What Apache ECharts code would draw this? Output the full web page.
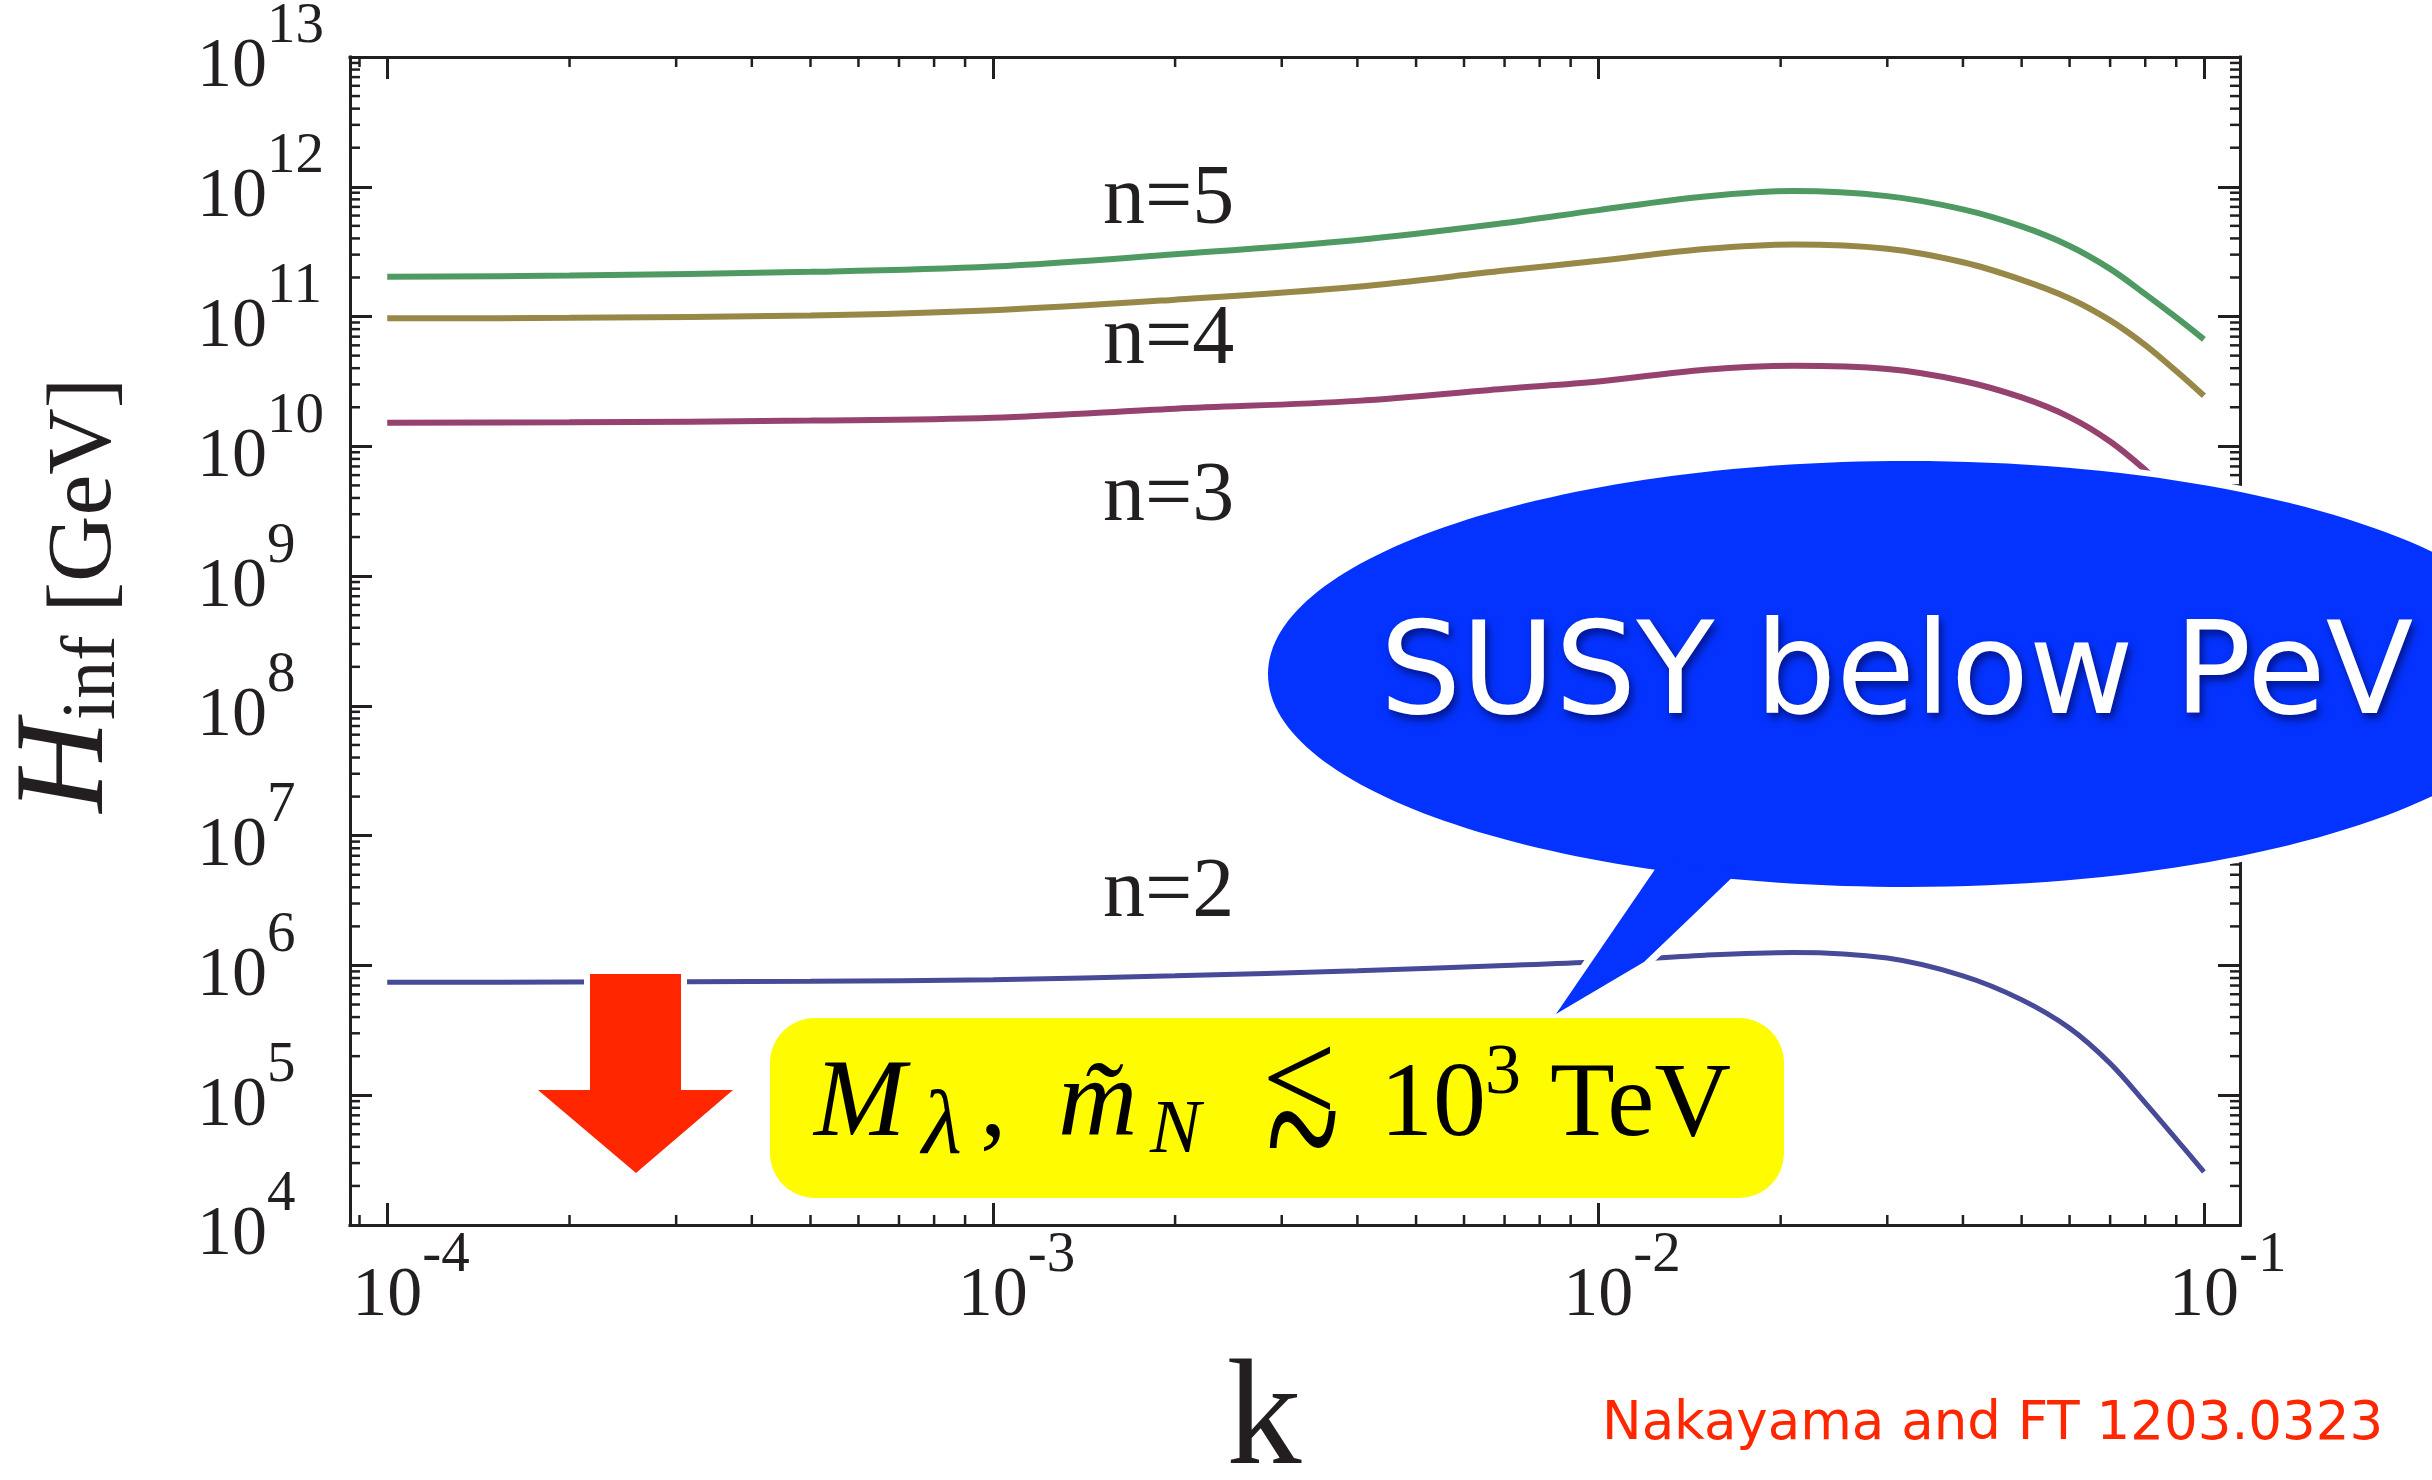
<!DOCTYPE html>
<html>
<head>
<meta charset="utf-8">
<script src="https://cdn.jsdelivr.net/npm/echarts@6/dist/echarts.min.js"></script>
<style>
  html, body { margin: 0; padding: 0; background: #ffffff; }
  #chart { width: 2432px; height: 1480px; }
</style>
</head>
<body>
<div id="chart"></div>
<script>
// ---- data -------------------------------------------------------------
const kValues = [1e-4, 2e-4, 5e-4, 1e-3, 2e-3, 4e-3, 7e-3, 1e-2, 0.015, 0.021,
                 0.03, 0.04, 0.05, 0.06, 0.07, 0.08, 0.09, 0.1];

// H_inf [GeV] for each k
const hN5 = [2.03e11, 2.07e11, 2.21e11, 2.43e11, 3.02e11, 3.89e11, 5.25e11, 6.61e11, 8.41e11, 9.27e11,
             8.47e11, 6.70e11, 4.95e11, 3.50e11, 2.33e11, 1.49e11, 9.84e10, 6.67e10];
const hN4 = [9.70e10, 9.77e10, 1.02e11, 1.12e11, 1.35e11, 1.70e11, 2.26e11, 2.69e11, 3.31e11, 3.59e11,
             3.33e11, 2.62e11, 1.92e11, 1.38e11, 9.35e10, 6.03e10, 3.80e10, 2.45e10];
const hN3 = [1.52e10, 1.53e10, 1.58e10, 1.66e10, 1.95e10, 2.24e10, 2.78e10, 3.16e10, 3.89e10, 4.17e10,
             3.94e10, 3.19e10, 2.38e10, 1.68e10, 1.09e10, 6.58e9, 3.92e9, 2.34e9];
const hN2 = [7.41e5, 7.45e5, 7.55e5, 7.76e5, 8.32e5, 9.12e5, 1.00e6, 1.07e6, 1.20e6, 1.26e6,
             1.14e6, 8.32e5, 5.45e5, 3.29e5, 1.76e5, 8.73e4, 4.59e4, 2.57e4];

const seriesNames = ['n=5', 'n=4', 'n=3', 'n=2'];
const curveLabels = ['n=5', 'n=4', 'n=3', 'n=2'];

const xTickValues = [1e-4, 1e-3, 1e-2, 1e-1];
const yTickValues = [1e4, 1e5, 1e6, 1e7, 1e8, 1e9, 1e10, 1e11, 1e12, 1e13];

const X_MIN = 8.68e-5, X_MAX = 0.1147;
const Y_MIN = 1e4, Y_MAX = 1e13;

const bubbleText = 'SUSY below PeV';
const creditText = 'Nakayama and FT 1203.0323';

// ---- styling ----------------------------------------------------------
const INK = '#231f20';
const SERIF = '"Liberation Serif", "Times New Roman", serif';
const SANS = '"DejaVu Sans", sans-serif';
const COLORS = ['#4f9a63', '#978848', '#95426f', '#464a97'];
const WIDTHS = [6, 6, 6, 5];
const BUBBLE = '#0433ff';
const RED = '#ff2600';
const YELLOW = '#fffb00';

const MAJOR_LEN = 22, MINOR_LEN = 10;
// canvas 'middle' sits this many em above the alphabetic baseline for Liberation Serif
const SERIF_MID = 0.3375;

function isTick(v, list) {
  return list.some(t => Math.abs(Math.log10(v) - Math.log10(t)) < 1e-6);
}
function expOf(v) { return Math.round(Math.log10(v)); }

const labelRich = {
  b: { fontFamily: SERIF, fontSize: 70, lineHeight: 104, verticalAlign: 'bottom', color: INK },
  s: { fontFamily: SERIF, fontSize: 57, lineHeight: 57, verticalAlign: 'top', color: INK },
  h: { fontFamily: SERIF, fontSize: 57, lineHeight: 57, verticalAlign: 'top', color: 'rgba(0,0,0,0)' }
};

function axisCommon(extra) {
  return Object.assign({
    type: 'log',
    logBase: 10,
    axisLine: { show: true, onZero: false, lineStyle: { color: INK, width: 3, cap: 'square' } },
    axisTick: { show: true, inside: true, length: MAJOR_LEN, lineStyle: { color: INK, width: 3 } },
    minorTick: { show: false },
    splitLine: { show: false },
    minorSplitLine: { show: false }
  }, extra);
}

// minor log ticks (2..9 x 10^n) inside the frame on all four sides
function minorValues(lo, hi) {
  const out = [];
  for (let e = Math.floor(Math.log10(lo)); e <= Math.ceil(Math.log10(hi)); e++) {
    for (let m = 2; m <= 9; m++) {
      const v = Number(m + 'e' + e);
      if (v > lo && v < hi) out.push(v);
    }
  }
  return out;
}

const minorTickSeries = {
  type: 'custom',
  coordinateSystem: 'cartesian2d',
  silent: true,
  clip: false,
  z: 1,
  data: [[1e-3, 1e8]],
  renderItem: function (params, api) {
    const children = [];
    const bl = api.coord([X_MIN, Y_MIN]);
    const tr = api.coord([X_MAX, Y_MAX]);
    const st = { stroke: INK, lineWidth: 2.5 };
    minorValues(X_MIN, X_MAX).forEach(v => {
      const x = api.coord([v, Y_MIN])[0];
      children.push({ type: 'line', shape: { x1: x, y1: bl[1], x2: x, y2: bl[1] - MINOR_LEN }, style: st });
      children.push({ type: 'line', shape: { x1: x, y1: tr[1], x2: x, y2: tr[1] + MINOR_LEN }, style: st });
    });
    minorValues(Y_MIN, Y_MAX).forEach(v => {
      const y = api.coord([X_MIN, v])[1];
      children.push({ type: 'line', shape: { x1: bl[0], y1: y, x2: bl[0] + MINOR_LEN, y2: y }, style: st });
      children.push({ type: 'line', shape: { x1: tr[0], y1: y, x2: tr[0] - MINOR_LEN, y2: y }, style: st });
    });
    return { type: 'group', children: children };
  }
};

const curveData = [hN5, hN4, hN3, hN2];
const lineSeries = curveData.map((vals, i) => ({
  type: 'line',
  name: seriesNames[i],
  data: kValues.map((k, j) => [k, vals[j]]),
  showSymbol: false,
  smooth: 0.35,
  silent: true,
  z: 3,
  lineStyle: { color: COLORS[i], width: WIDTHS[i] },
  itemStyle: { color: COLORS[i] }
}));

// ---- annotations (pixel layout) ----------------------------------------
const arrowPts = [[590, 974], [681, 974], [681, 1090], [733, 1090], [636, 1173], [538, 1090], [590, 1090]];
const tailPts = [[1660, 862], [1742, 868], [1690, 918], [1644, 962], [1556, 1014]];
const ellipseShape = { cx: 1908, cy: 674, rx: 640, ry: 213 };
const boxShape = { x: 770, y: 1018, width: 1014, height: 180, r: 45 };
const curveLabelPos = [[1103, 201], [1103, 341], [1103, 498], [1103, 894]];

// pieces of the bound written in the yellow box: [text, left x, baseline y, font size, italic]
const boundPieces = [
  ['M', 814, 1143, 110, true],
  ['\u03bb', 922, 1160, 92, true],
  [',', 980, 1143, 106, false],
  ['m\u0303', 1058, 1143, 110, true],
  ['N', 1150, 1158, 76, true],
  ['10', 1380, 1143, 106, false],
  ['3', 1485, 1098, 72, false],
  ['TeV', 1550, 1143, 106, false]
];

const graphics = [];
// red downward arrow with a white halo
graphics.push({ type: 'polygon', z: 50, silent: true, shape: { points: arrowPts },
  style: { fill: '#ffffff', stroke: '#ffffff', lineWidth: 12, lineJoin: 'miter' } });
graphics.push({ type: 'polygon', z: 51, silent: true, shape: { points: arrowPts }, style: { fill: RED } });
// speech bubble with a white halo
graphics.push({ type: 'ellipse', z: 50, silent: true, shape: ellipseShape,
  style: { fill: '#ffffff', stroke: '#ffffff', lineWidth: 12 } });
graphics.push({ type: 'polygon', z: 50, silent: true, shape: { points: tailPts },
  style: { fill: '#ffffff', stroke: '#ffffff', lineWidth: 14, lineJoin: 'round' } });
graphics.push({ type: 'ellipse', z: 51, silent: true, shape: ellipseShape, style: { fill: BUBBLE } });
graphics.push({ type: 'polygon', z: 51, silent: true, shape: { points: tailPts }, style: { fill: BUBBLE } });
graphics.push({ type: 'text', z: 52, silent: true, style: {
  text: bubbleText, x: 1380, y: 680, align: 'left', verticalAlign: 'middle',
  fontFamily: SANS, fontSize: 128, fill: '#ffffff',
  textShadowColor: 'rgba(0,0,50,0.6)', textShadowBlur: 8, textShadowOffsetX: 3, textShadowOffsetY: 5
} });
// yellow condition box
graphics.push({ type: 'rect', z: 51, silent: true, shape: boxShape, style: { fill: YELLOW } });
boundPieces.forEach(p => {
  graphics.push({ type: 'text', z: 52, silent: true, style: {
    text: p[0], x: p[1], y: p[2] - SERIF_MID * p[3], align: 'left', verticalAlign: 'middle',
    fontFamily: SERIF, fontSize: p[3], fontStyle: p[4] ? 'italic' : 'normal', fill: '#000000'
  } });
});
// "less than or about": a less-than sign over a stretched tilde
graphics.push({ type: 'text', z: 52, silent: true, style: {
  text: '<', x: 1262, y: 1087, align: 'left', verticalAlign: 'middle',
  fontFamily: SERIF, fontSize: 132, fill: '#000000'
} });
graphics.push({ type: 'text', z: 52, silent: true, x: 1266, y: 1145, scaleY: 1.6, style: {
  text: '~', x: 0, y: 0, align: 'left', verticalAlign: 'middle',
  fontFamily: SERIF, fontSize: 136, fill: '#000000'
} });
// curve labels
curveLabels.forEach((t, i) => {
  graphics.push({ type: 'text', z: 40, silent: true, style: {
    text: t, x: curveLabelPos[i][0], y: curveLabelPos[i][1], align: 'left', verticalAlign: 'middle',
    fontFamily: SERIF, fontSize: 84, fill: INK
  } });
});
// reference line
graphics.push({ type: 'text', z: 40, silent: true, style: {
  text: creditText, x: 1602, y: 1425, align: 'left', verticalAlign: 'middle',
  fontFamily: SANS, fontSize: 53, fill: RED
} });

// ---- chart --------------------------------------------------------------
const option = {
  animation: false,
  backgroundColor: '#ffffff',
  grid: { left: 350, right: 192, top: 57, bottom: 255, outerBoundsMode: 'none', containLabel: false },
  xAxis: [
    axisCommon({
      min: X_MIN, max: X_MAX, position: 'bottom',
      axisLabel: {
        show: true, margin: 3, verticalAlign: 'top', color: INK, rich: labelRich,
        formatter: v => isTick(v, xTickValues) ? '{h|' + expOf(v) + '}{b|10}{s|' + expOf(v) + '}' : ''
      },
      name: 'k', nameLocation: 'middle', nameGap: 144,
      nameTextStyle: { fontFamily: SERIF, fontSize: 150, lineHeight: 110, color: INK, padding: [0, 62, 0, 0] }
    }),
    axisCommon({ min: X_MIN, max: X_MAX, position: 'top', axisLabel: { show: false } })
  ],
  yAxis: [
    axisCommon({
      min: Y_MIN, max: Y_MAX, position: 'left',
      axisLabel: {
        show: true, margin: 153, align: 'left', verticalAlign: 'middle', color: INK, rich: labelRich,
        padding: [0, 0, 12, 0],
        formatter: v => isTick(v, yTickValues) ? '{b|10}{s|' + expOf(v) + '}' : ''
      },
      name: '{h|H}{s|inf}{u| [GeV]}', nameLocation: 'middle', nameGap: 218, nameRotate: 90,
      nameTextStyle: {
        color: INK, padding: [0, 0, 0, 92],
        rich: {
          h: { fontFamily: SERIF, fontStyle: 'italic', fontSize: 128, lineHeight: 136, verticalAlign: 'bottom', color: INK },
          s: { fontFamily: SERIF, fontSize: 76, lineHeight: 107, verticalAlign: 'bottom', color: INK },
          u: { fontFamily: SERIF, fontSize: 92, lineHeight: 92, verticalAlign: 'bottom', color: INK }
        }
      }
    }),
    axisCommon({ min: Y_MIN, max: Y_MAX, position: 'right', axisLabel: { show: false } })
  ],
  series: lineSeries.concat([minorTickSeries]),
  graphic: graphics
};

const chart = echarts.init(document.getElementById('chart'), null, { renderer: 'canvas' });
chart.setOption(option);
</script>
</body>
</html>
